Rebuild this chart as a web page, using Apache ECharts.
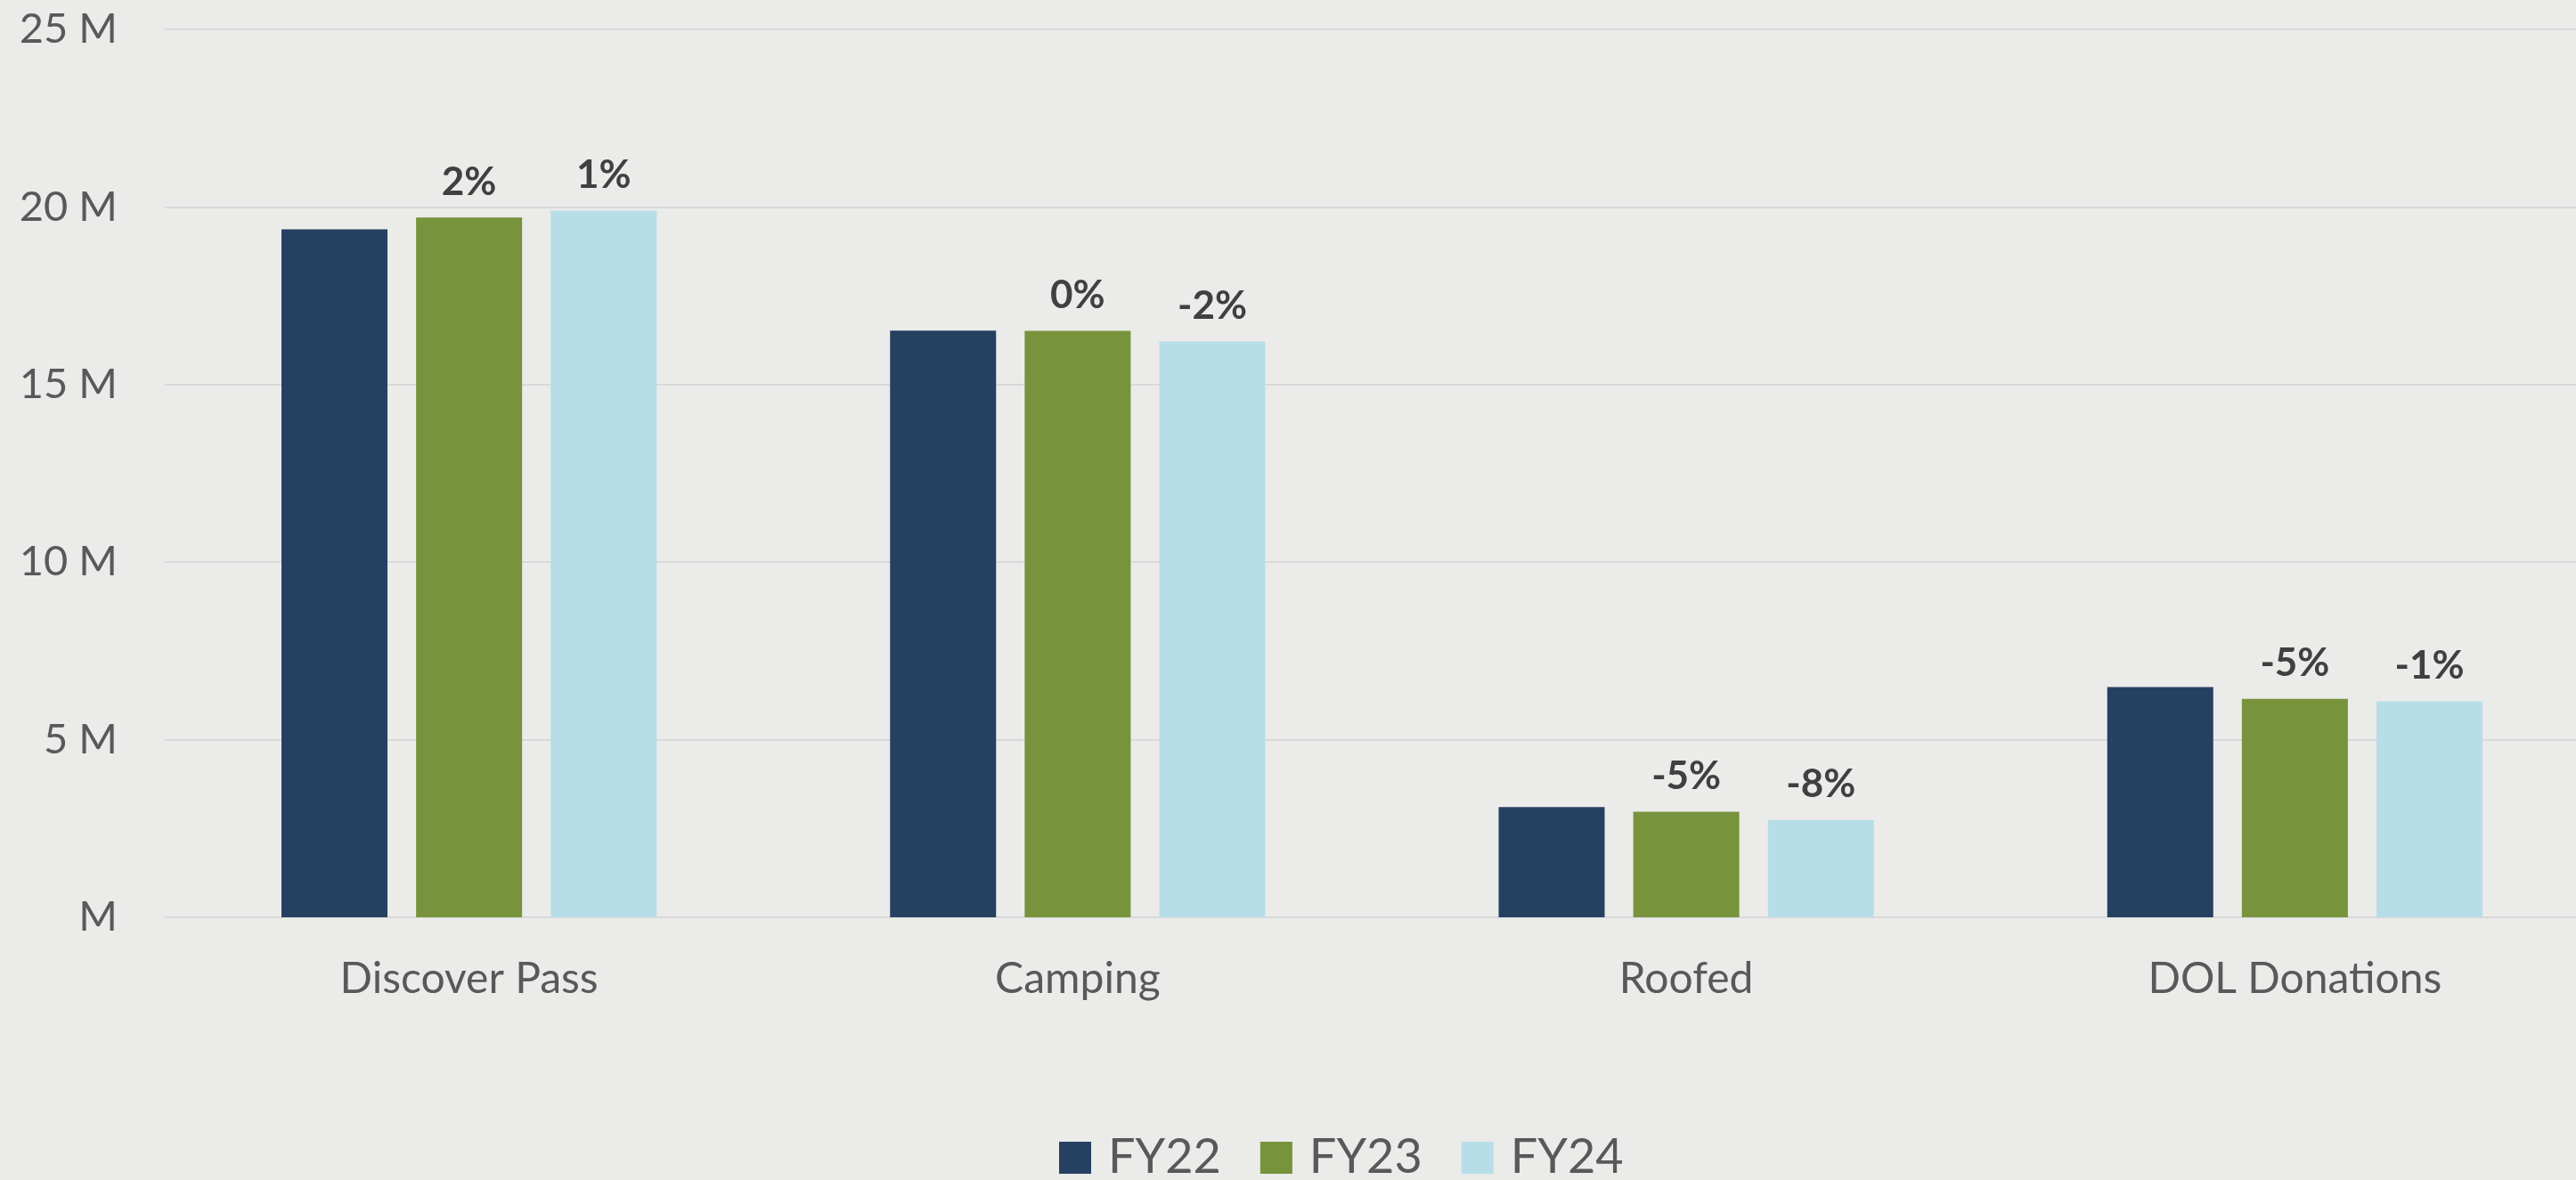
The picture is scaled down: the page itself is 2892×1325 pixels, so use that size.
<!DOCTYPE html>
<html>
<head>
<meta charset="utf-8">
<script src="https://cdn.jsdelivr.net/npm/echarts@6/dist/echarts.min.js"></script>
<style>
html,body{margin:0;padding:0;background:#EBEBE9;}
#chart{width:2892px;height:1325px;}
</style>
</head>
<body>
<div id="chart"></div>
<script>
const categories = ['Discover Pass', 'Camping', 'Roofed', 'DOL Donations'];
const seriesNames = ['FY22', 'FY23', 'FY24'];
// values in millions
const fy22 = [19.37, 16.52, 3.10, 6.48];
const fy23 = [19.70, 16.51, 2.97, 6.15];
const fy24 = [19.90, 16.21, 2.74, 6.08];
// change labels shown above FY23 and FY24 bars
const fy23Change = ['2%', '0%', '-5%', '-5%'];
const fy24Change = ['1%', '-2%', '-8%', '-1%'];
const yTicks = [0, 5, 10, 15, 20, 25];

const colors = ['#254061', '#77933C', '#B7DEE8'];
const FONT = 'Lato';

function makeSeries(name, data, labels, color) {
  return {
    name: name,
    type: 'bar',
    data: data,
    barWidth: 119,
    barGap: '27%',
    itemStyle: { color: color },
    label: labels ? {
      show: true,
      position: 'top',
      distance: 18,
      formatter: p => labels[p.dataIndex],
      fontFamily: FONT,
      fontWeight: 'bold',
      fontSize: 44,
      color: '#404040'
    } : { show: false }
  };
}

const chart = echarts.init(document.getElementById('chart'));
chart.setOption({
  backgroundColor: '#EBEBE9',
  animation: false,
  color: colors,
  grid: {
    left: 185, width: 2733, top: 33, height: 997,
    containLabel: false, outerBoundsMode: 'none'
  },
  legend: {
    data: seriesNames,
    left: 1189,
    top: 1273,
    padding: 0,
    itemWidth: 36,
    itemHeight: 36,
    itemGap: 44,
    icon: 'rect',
    textStyle: {
      fontFamily: FONT,
      fontSize: 54,
      color: '#595959',
      padding: [0, 0, 0, 14]
    }
  },
  xAxis: {
    type: 'category',
    data: categories,
    axisLine: { show: false },
    axisTick: { show: false },
    axisLabel: {
      margin: 46,
      fontFamily: FONT,
      fontSize: 48,
      color: '#595959'
    }
  },
  yAxis: {
    type: 'value',
    min: yTicks[0],
    max: yTicks[yTicks.length - 1],
    interval: yTicks[1] - yTicks[0],
    axisLine: { show: false },
    axisTick: { show: false },
    splitLine: { lineStyle: { color: '#D9D9D9', width: 2 } },
    axisLabel: {
      margin: 53,
      fontFamily: FONT,
      fontSize: 47,
      color: '#595959',
      formatter: v => v === 0 ? 'M' : v + ' M'
    }
  },
  series: [
    makeSeries(seriesNames[0], fy22, null, colors[0]),
    makeSeries(seriesNames[1], fy23, fy23Change, colors[1]),
    makeSeries(seriesNames[2], fy24, fy24Change, colors[2])
  ]
});
</script>
</body>
</html>
